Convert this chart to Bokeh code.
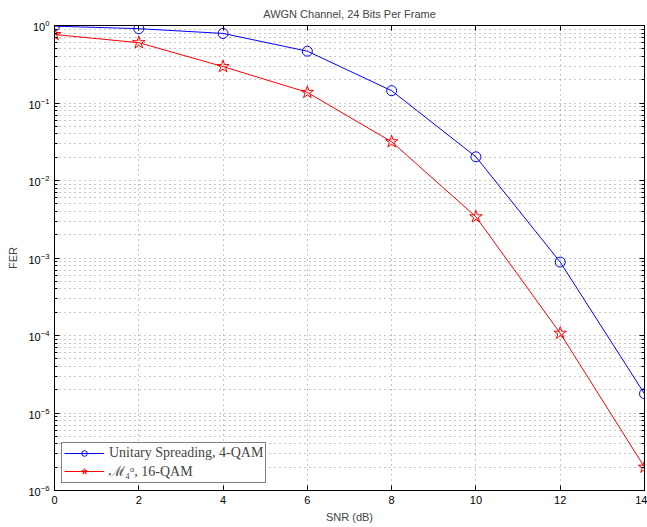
from bokeh.plotting import figure
from bokeh.embed import file_html
from bokeh.resources import INLINE
from bokeh.models import LinearAxis, LogAxis, FixedTicker, Legend, LegendItem, CustomJSTickFormatter

snr = [0, 2, 4, 6, 8, 10, 12, 14]
fer_unitary = [0.98, 0.91, 0.79, 0.466, 0.144, 0.0202, 8.85e-4, 1.77e-5]
fer_m4 = [0.765, 0.60, 0.295, 0.137, 0.0316, 3.4e-3, 1.07e-4, 2.0e-6]
x_ticks = [0, 2, 4, 6, 8, 10, 12, 14]
y_exps = [-6, -5, -4, -3, -2, -1, 0]
label_unitary = "Unitary Spreading, 4-QAM"
label_m4 = "\u2133\u2084\u1d45, 16-QAM"

y_major = [10.0 ** e for e in y_exps]
y_minor = [m * 10.0 ** e for e in y_exps[:-1] for m in range(2, 10)]

FONT = "Liberation Sans"

p = figure(width=647, height=527, x_range=(0, 14), y_range=(1e-6, 1),
           y_axis_type="log", output_backend="svg", toolbar_location=None,
           title="AWGN Channel, 24 Bits Per Frame",
           min_border_left=54, min_border_right=3, min_border_top=0, min_border_bottom=37)
p.title.align = "center"
p.title.text_font = FONT
p.title.text_font_size = "11px"
p.title.text_font_style = "normal"
p.title.standoff = 11
p.outline_line_color = "black"
p.outline_line_width = 1
p.outline_line_alpha = 1

xt = FixedTicker(ticks=x_ticks)
yt = FixedTicker(ticks=y_major, minor_ticks=y_minor)

def style_axis(ax, show_labels=True):
    ax.axis_line_color = "black"
    ax.major_tick_in = 5
    ax.major_tick_out = 0
    ax.minor_tick_in = 3
    ax.minor_tick_out = 0
    ax.major_tick_line_color = "black"
    ax.minor_tick_line_color = "black"
    ax.major_label_text_font = FONT
    ax.major_label_text_font_size = "11px"
    ax.major_label_text_color = "black"
    ax.axis_label_text_font = FONT
    ax.axis_label_text_font_size = "11px"
    ax.axis_label_text_font_style = "normal"
    if not show_labels:
        ax.formatter = CustomJSTickFormatter(code="return ''")
        ax.major_label_standoff = 0

p.xaxis.ticker = xt
p.yaxis.ticker = yt
p.xaxis.axis_label = "SNR (dB)"
p.yaxis.axis_label = "FER"
p.xaxis.axis_label_standoff = 4
p.yaxis.axis_label_standoff = 6
for ax in p.xaxis:
    style_axis(ax)
    ax.minor_tick_in = 0
for ax in p.yaxis:
    style_axis(ax)

top = LinearAxis(ticker=FixedTicker(ticks=x_ticks))
style_axis(top, False)
top.minor_tick_in = 0
p.add_layout(top, "above")
right = LogAxis(ticker=FixedTicker(ticks=y_major, minor_ticks=y_minor))
style_axis(right, False)
p.add_layout(right, "right")

for g in (p.xgrid, p.ygrid):
    g.grid_line_color = "black"
    g.grid_line_alpha = 0.45
    g.grid_line_dash = "1 4"
    g.grid_line_width = 1
p.xgrid.ticker = xt
p.ygrid.ticker = yt
p.ygrid.minor_grid_line_color = "black"
p.ygrid.minor_grid_line_alpha = 0.45
p.ygrid.minor_grid_line_dash = "1 4"

l1 = p.line(snr, fer_unitary, line_color="blue", line_width=1)
m1 = p.scatter(snr, fer_unitary, marker="circle", size=10, line_color="blue",
               fill_color=None, line_width=1)
l2 = p.line(snr, fer_m4, line_color="red", line_width=1)
m2 = p.scatter(snr, fer_m4, marker="star", size=13, line_color="red",
               fill_color=None, line_width=1)

legend = Legend(items=[LegendItem(label=label_unitary, renderers=[l1, m1]),
                       LegendItem(label=label_m4, renderers=[l2, m2])],
                location="bottom_left")
legend.label_text_font = "Liberation Serif"
legend.label_text_font_size = "14px"
legend.border_line_color = "black"
legend.border_line_width = 1
legend.glyph_width = 40
legend.glyph_height = 14
legend.label_height = 14
legend.spacing = 0
legend.padding = 2
legend.margin = 7
legend.label_standoff = 5
legend.background_fill_alpha = 1
p.add_layout(legend, "center")

open("out.html", "w").write(file_html(p, INLINE))
